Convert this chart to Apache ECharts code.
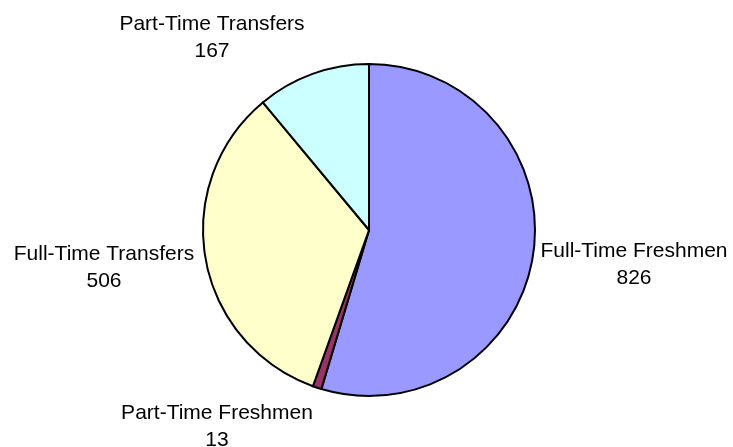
<!DOCTYPE html>
<html>
<head>
<meta charset="utf-8">
<script src="https://cdn.jsdelivr.net/npm/echarts@6/dist/echarts.min.js"></script>
<style>
html,body{margin:0;padding:0;background:#fff;}
#chart{width:733px;height:447px;}
</style>
</head>
<body>
<div id="chart"></div>
<script>
var categories = ['Full-Time Freshmen', 'Part-Time Freshmen', 'Full-Time Transfers', 'Part-Time Transfers'];
var values = [826, 13, 506, 167];
var colors = ['#9999FF', '#993366', '#FFFFCC', '#CCFFFF'];
// label anchor positions (layout only)
var labelPos = [[634, 265], [217, 427], [104, 268], [212, 38]];

var data = categories.map(function (c, i) {
  return { name: c, value: values[i], itemStyle: { color: colors[i] } };
});

var chart = echarts.init(document.getElementById('chart'), null, { renderer: 'canvas' });
chart.setOption({
  animation: false,
  backgroundColor: '#ffffff',
  series: [{
    type: 'pie',
    center: [369, 230],
    radius: [0, 166],
    startAngle: 90,
    clockwise: true,
    avoidLabelOverlap: false,
    itemStyle: { borderColor: '#000', borderWidth: 2 },
    label: {
      show: true,
      position: 'outside',
      formatter: '{b}\n{c}',
      fontFamily: 'Liberation Sans, Arial, sans-serif',
      fontSize: 21,
      lineHeight: 27,
      color: '#000',
      align: 'center'
    },
    labelLine: { show: false },
    labelLayout: function (p) {
      var pos = labelPos[p.dataIndex];
      return { x: pos[0], y: pos[1], align: 'center', verticalAlign: 'middle' };
    },
    emphasis: { disabled: true },
    data: data
  }]
});
</script>
</body>
</html>
